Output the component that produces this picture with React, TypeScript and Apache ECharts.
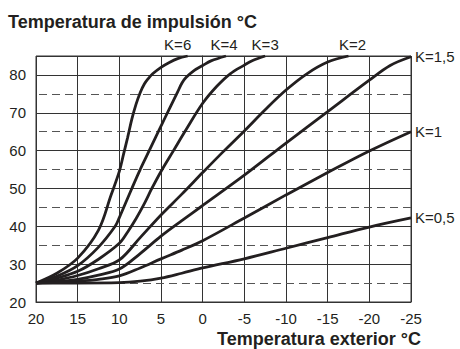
import React, { useEffect, useRef } from "react";
import * as echarts from "echarts";

// Heating curves: [outdoor temperature °C, flow temperature °C]
const curveK6 = [[20,25],[17.5,27.6],[15,31.6],[12.5,39],[11,48.2],[10,54.5],[9.5,59],[9,63.5],[8.5,68.3],[8,72.2],[7.5,75.3],[7,77.6],[6.5,79.1],[6,80.3],[5,82],[4,83.3],[3,84.3],[1.8,85]];
const curveK4 = [[20,25],[17.5,26.8],[15,29.6],[12.5,34.5],[10.5,40],[10,42.3],[8.5,50],[7.5,55],[6.3,60.5],[5,66.5],[4,71],[3,75.5],[2.5,77.8],[2,79.3],[1,81.2],[0,82.5],[-1,83.7],[-2.8,85]];
const curveK3 = [[20,25],[17.5,26.3],[15,28.1],[12.5,31.3],[10,35.5],[9,38.5],[8,42],[7,46],[6.1,50],[5,54.5],[3.5,60],[2,65.5],[0,72.5],[-1.7,77],[-3.3,80.3],[-5,82.6],[-6,83.8],[-7.5,85]];
const curveK2 = [[20,25],[17.5,25.8],[15,27],[12.5,28.8],[10,31.1],[7.5,37],[5,43],[2.5,48.5],[0,54.2],[-2.5,59.8],[-5,65.2],[-7.5,70.8],[-10,76],[-12.5,80.3],[-15,83.4],[-17.5,85]];
const curveK15 = [[20,25],[17.5,25.4],[15,26],[12.5,27.1],[10,28.7],[7.5,32.8],[5,37.4],[2.5,41.5],[0,45.5],[-5,53.5],[-10,62],[-15,70.3],[-20,78.6],[-22.5,82.5],[-25,84.8]];
const curveK1 = [[20,25],[17.5,25.2],[15,25.5],[12.5,26],[10,26.9],[7.5,29],[5,31.4],[2.5,33.7],[0,36.2],[-5,42.2],[-10,48.3],[-15,54.2],[-20,59.9],[-25,65]];
const curveK05 = [[20,25],[15,25],[10,25.1],[7.5,25.5],[5,26.3],[2.5,27.6],[0,29],[-5,31.4],[-10,34.2],[-15,37],[-20,39.8],[-25,42.2]];

const curveNames = ["K=6", "K=4", "K=3", "K=2", "K=1,5", "K=1", "K=0,5"];
const curves = [curveK6, curveK4, curveK3, curveK2, curveK15, curveK1, curveK05];
const labelPlacement = ["top", "top", "top", "top", "right", "right", "right"];
const labelOffsets = [[-10, 0], [-2, 0], [0, 0], [4, 0], [0, 0], [0, 0], [0, 0]];

const dashedLevels = [25, 35, 45, 55, 65, 75];
const yTickLabels = [20, 30, 40, 50, 60, 70, 80];

const titleText = "Temperatura de impulsión °C";
const xAxisTitle = "Temperatura exterior °C";

const FONT = "'Liberation Sans', Arial, Helvetica, sans-serif";
const INK = "#231f20";

export default function App() {
  const ref = useRef<HTMLDivElement>(null);

  useEffect(() => {
    if (!ref.current) return;
    const chart = echarts.init(ref.current, undefined, { renderer: "svg" });

    const series: any[] = curves.map((pts, i) => ({
      type: "line",
      name: curveNames[i],
      smooth: 0.35,
      showSymbol: true,
      symbol: "circle",
      symbolSize: 0,
      silent: true,
      lineStyle: { color: INK, width: 2.8 },
      itemStyle: { color: INK },
      z: 3,
      data: pts.map((p, j) =>
        j === pts.length - 1
          ? {
              value: p,
              label: {
                show: true,
                formatter: curveNames[i],
                position: labelPlacement[i],
                distance: labelPlacement[i] === "top" ? 4 : 4,
                offset: labelOffsets[i],
                color: INK,
                fontSize: 15,
                fontFamily: FONT,
              },
            }
          : { value: p }
      ),
      markLine:
        i === 0
          ? {
              silent: true,
              symbol: "none",
              label: { show: false },
              lineStyle: { type: [8, 5], color: "#555", width: 1 },
              z: 1,
              data: dashedLevels.map((v) => ({ yAxis: v })),
            }
          : undefined,
    }));

    chart.setOption({
      animation: false,
      title: [
        {
          text: titleText,
          left: 8,
          top: 13,
          padding: 0,
          textStyle: { fontSize: 18, fontWeight: "bold", color: INK, fontFamily: FONT },
        },
        {
          text: xAxisTitle,
          right: 39,
          top: 330,
          padding: 0,
          textStyle: { fontSize: 18, fontWeight: "bold", color: INK, fontFamily: FONT, lineHeight: 18 },
        },
      ],
      grid: {
        left: 36,
        right: 49,
        top: 56,
        bottom: 47,
        show: true,
        borderColor: "#333",
        borderWidth: 1,
        backgroundColor: "transparent",
      },
      xAxis: {
        type: "value",
        inverse: true,
        min: -25,
        max: 20,
        interval: 5,
        axisLine: { show: true, lineStyle: { color: "#333" } },
        axisTick: { show: false },
        splitLine: { show: true, lineStyle: { color: "#333", width: 1 } },
        axisLabel: { color: INK, fontSize: 15, fontFamily: FONT, margin: 9 },
      },
      yAxis: {
        type: "value",
        min: 20,
        max: 85,
        interval: 10,
        axisLine: { show: true, lineStyle: { color: "#333" } },
        axisTick: { show: false },
        splitLine: { show: true, lineStyle: { color: "#333", width: 1 } },
        axisLabel: {
          color: INK,
          fontSize: 15,
          fontFamily: FONT,
          margin: 10,
          formatter: (v: number) => (yTickLabels.includes(v) ? String(v) : ""),
        },
      },
      series,
    });

    return () => chart.dispose();
  }, []);

  return (
    <div
      ref={ref}
      style={{ position: "fixed", left: 0, top: 0, width: 460, height: 349, background: "#fff" }}
    />
  );
}
